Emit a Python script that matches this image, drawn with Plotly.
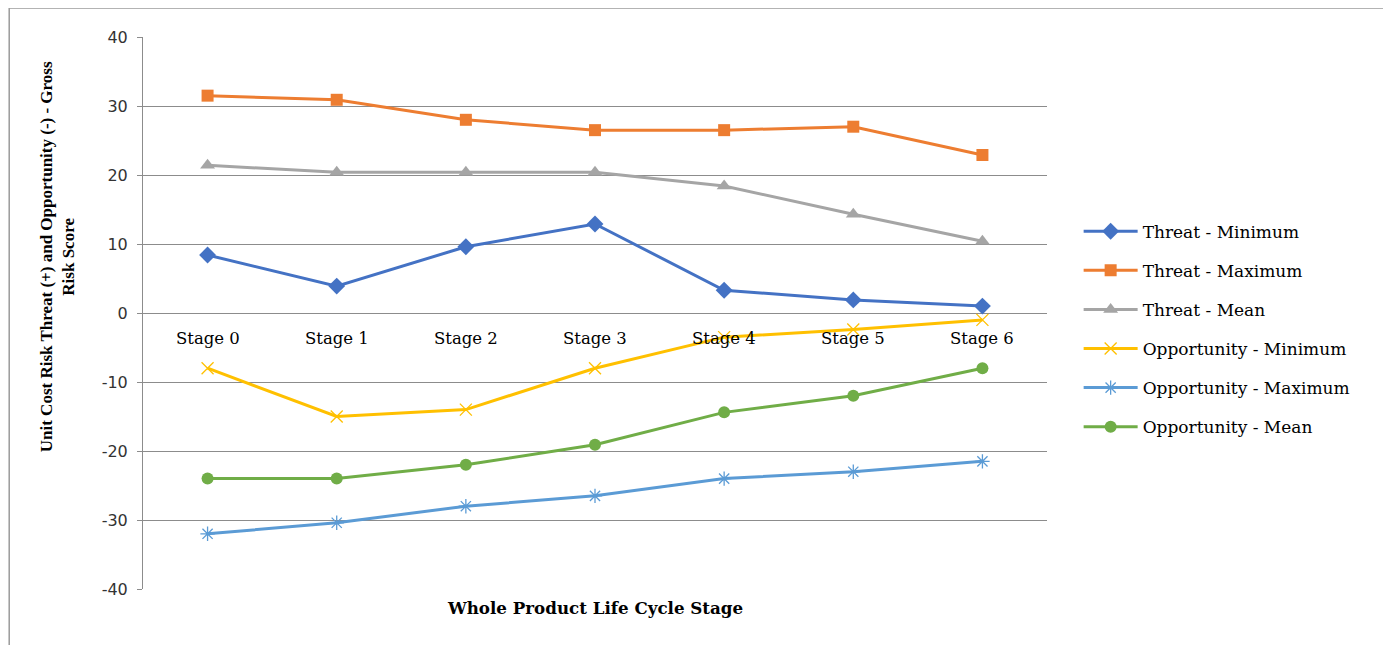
import plotly.graph_objects as go

stages = ["Stage 0", "Stage 1", "Stage 2", "Stage 3", "Stage 4", "Stage 5", "Stage 6"]
threat_min = [8.4, 3.9, 9.6, 12.9, 3.3, 1.9, 1.0]
threat_max = [31.5, 30.9, 28.0, 26.5, 26.5, 27.0, 22.9]
threat_mean = [21.4, 20.4, 20.4, 20.4, 18.4, 14.3, 10.4]
opp_min = [-8.0, -15.0, -14.0, -8.0, -3.5, -2.4, -1.0]
opp_max = [-32.0, -30.4, -28.0, -26.5, -24.0, -23.0, -21.5]
opp_mean = [-24.0, -24.0, -22.0, -19.1, -14.4, -12.0, -8.0]
y_ticks = [40, 30, 20, 10, 0, -10, -20, -30, -40]
y_tick_text = ["40", "30", "20", "10", "0", "-10", "-20", "-30", "-40"]

series = [
    ("Threat - Minimum", threat_min, "#4472C4", "diamond", 13, 0),
    ("Threat - Maximum", threat_max, "#ED7D31", "square", 12, 0),
    ("Threat - Mean", threat_mean, "#A5A5A5", "triangle-up", 13, 0),
    ("Opportunity - Minimum", opp_min, "#FFC000", "x-thin-open", 12, 1.3),
    ("Opportunity - Maximum", opp_max, "#5B9BD5", "asterisk-open", 12, 1.3),
    ("Opportunity - Mean", opp_mean, "#70AD47", "circle", 12, 0),
]

SERIF = "DejaVu Serif"

fig = go.Figure()
for i, (name, vals, col, sym, sz, lw) in enumerate(series):
    fig.add_trace(go.Scatter(
        x=stages, y=vals, name=name, mode="lines+markers",
        line=dict(color=col, width=3),
        marker=dict(symbol=sym, size=sz, color=col, line=dict(color=col, width=lw)),
        legendgroup=f"g{i}",
    ))

for s in stages:
    fig.add_annotation(x=s, y=0, xref="x", yref="y", text=s, showarrow=False,
                       yanchor="middle", yshift=-25,
                       font=dict(family=SERIF, size=16.5, color="#000000"))

fig.add_annotation(xref="paper", yref="paper", x=0, y=0.601, xshift=-86,
                   text="<b>Unit Cost Risk Threat (+) and Opportunity (-) - Gross<br>Risk Score</b>",
                   textangle=-90, showarrow=False, xanchor="center", yanchor="middle",
                   font=dict(family="Liberation Serif", size=17, color="#000000"))

fig.add_annotation(xref="paper", yref="paper", x=0.5, y=0, yshift=-19,
                   text="<b>Whole Product Life Cycle Stage</b>", showarrow=False,
                   xanchor="center", yanchor="middle",
                   font=dict(family=SERIF, size=16.7, color="#000000"))

# outer chart frame (left, top, right)
border = dict(color="#9a9a9a", width=1.5)
xl, xr, yt = -0.148, 1.3728, 1.0525
fig.add_shape(type="line", xref="paper", yref="paper", x0=xl, x1=xl, y0=-0.2, y1=yt, line=border)
fig.add_shape(type="line", xref="paper", yref="paper", x0=xl, x1=xr, y0=yt, y1=yt, line=border)
fig.add_shape(type="line", xref="paper", yref="paper", x0=xr, x1=xr, y0=-0.2, y1=yt, line=border)

fig.update_xaxes(type="category", range=[-0.5, 6.5], showticklabels=False, showgrid=False,
                 zeroline=False, showline=False, ticks="")
fig.update_yaxes(range=[-40, 40], tickvals=y_ticks, ticktext=y_tick_text,
                 showgrid=True, gridcolor="#8c8c8c", gridwidth=1,
                 zeroline=False, showline=True, linecolor="#8c8c8c", linewidth=1,
                 ticks="outside", ticklen=5, tickcolor="#8c8c8c", ticklabelstandoff=6,
                 tickfont=dict(family="DejaVu Sans", size=16, color="#333333"))

fig.update_layout(
    width=1391, height=645,
    margin=dict(l=135, r=352, t=29, b=64),
    plot_bgcolor="white", paper_bgcolor="white",
    showlegend=True,
    legend=dict(x=1.035, y=0.68, xanchor="left", yanchor="top",
                traceorder="grouped", tracegroupgap=14,
                font=dict(family=SERIF, size=17, color="#000000"),
                itemwidth=54, bgcolor="rgba(0,0,0,0)"),
)

fig.write_html("out.html")
